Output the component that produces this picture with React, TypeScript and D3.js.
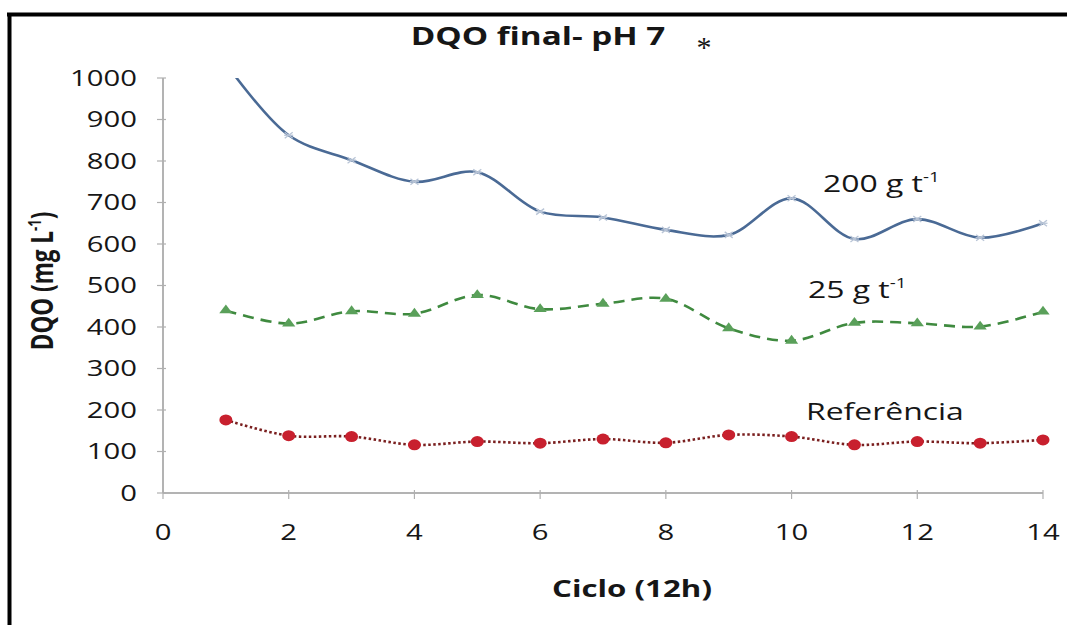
import React from "react";
import * as d3 from "d3";

const cycles = [1, 2, 3, 4, 5, 6, 7, 8, 9, 10, 11, 12, 13, 14];
const dqo200 = [1035, 862, 802, 750, 773, 678, 664, 634, 622, 710, 612, 660, 615, 650];
const dqo25 = [440, 408, 438, 432, 477, 443, 456, 468, 397, 367, 410, 409, 401, 437];
const referencia = [176, 138, 136, 116, 124, 120, 130, 121, 140, 136, 116, 124, 120, 128];
const xTicks = [0, 2, 4, 6, 8, 10, 12, 14];
const yTicks = [0, 100, 200, 300, 400, 500, 600, 700, 800, 900, 1000];

const W = 1067;
const H = 625;
const SX = 1.33;
const FONT = "'Open Sans', 'DejaVu Sans', sans-serif";
const INK = "#161616";

export default function App() {
  const x = d3.scaleLinear().domain([0, 14]).range([163, 1043]);
  const y = d3.scaleLinear().domain([0, 1000]).range([493, 78]);
  const line = d3
    .line<number>()
    .x((_, i) => x(cycles[i]))
    .y((d) => y(d))
    .curve(d3.curveCatmullRom.alpha(0.5));

  const T = (px: number, py: number) => `translate(${px},${py}) scale(${SX},1)`;
  const tri = d3.symbol(d3.symbolTriangle, 45)();

  return (
    <svg
      width={W}
      height={H}
      style={{ position: "absolute", left: 0, top: 0, background: "#fff" }}
      fontFamily={FONT}
    >
      <rect x={0} y={0} width={W} height={H} fill="#fff" />
      <defs>
        <clipPath id="plot">
          <rect x={150} y={y(1000)} width={920} height={y(0) - y(1000) + 20} />
        </clipPath>
      </defs>
      {/* frame */}
      <line x1={7} x2={W} y1={14.5} y2={14.5} stroke="#000" strokeWidth={4} />
      <line x1={9.5} x2={9.5} y1={13} y2={H} stroke="#000" strokeWidth={4} />

      {/* title */}
      <text transform={T(538, 45)} textAnchor="middle" fontWeight="bold" fontSize={25} fill={INK}>
        DQO final- pH 7
      </text>
      <text x={704} y={57} textAnchor="middle" fontSize={30} fill={INK} fontFamily="'Liberation Serif', serif">
        *
      </text>

      {/* axes */}
      <line x1={x(0)} x2={x(0)} y1={y(1000)} y2={y(0)} stroke="#9a9a9a" strokeWidth={1.5} />
      <line x1={x(0)} x2={x(14)} y1={y(0)} y2={y(0)} stroke="#9a9a9a" strokeWidth={1.5} />
      {yTicks.map((t) => (
        <g key={"y" + t}>
          <line x1={x(0) - 6} x2={x(0) + 3} y1={y(t)} y2={y(t)} stroke="#b0b0b0" strokeWidth={1.2} />
          <text transform={T(137, y(t) + 7.5)} textAnchor="end" fontSize={22} fill={INK}>
            {t}
          </text>
        </g>
      ))}
      {xTicks.map((t) => (
        <g key={"x" + t}>
          <line x1={x(t)} x2={x(t)} y1={y(0) - 3} y2={y(0) + 6} stroke="#b0b0b0" strokeWidth={1.2} />
          <text transform={T(x(t), 540)} textAnchor="middle" fontSize={22} fill={INK}>
            {t}
          </text>
        </g>
      ))}

      {/* axis titles */}
      <text transform={T(632, 597)} textAnchor="middle" fontWeight="bold" fontSize={23.5} fill={INK}>
        Ciclo (12h)
      </text>
      <g transform="translate(53,281) scale(1.33,1)">
        <text transform="rotate(-90)" textAnchor="middle" fontWeight="bold" fontSize={22.5} fill={INK}>
          DQO (mg L<tspan dy={-9} fontSize={13}>-1</tspan>
          <tspan dy={9}>)</tspan>
        </text>
      </g>

      {/* series */}
      <g clipPath="url(#plot)">
        <path d={line(dqo200) || ""} fill="none" stroke="#4a6a95" strokeWidth={2.6} />
        {dqo200.map((v, i) => {
          const cx = x(cycles[i]);
          const cy = y(v);
          return (
            <g key={"b" + i} stroke="#b8c4d6" strokeWidth={1.3}>
              <line x1={cx - 4} x2={cx + 4} y1={cy - 3} y2={cy + 3} />
              <line x1={cx - 4} x2={cx + 4} y1={cy + 3} y2={cy - 3} />
              <line x1={cx - 4.5} x2={cx + 4.5} y1={cy} y2={cy} />
            </g>
          );
        })}
      </g>
      <path d={line(dqo25) || ""} fill="none" stroke="#3f8a3f" strokeWidth={2.6} strokeDasharray="11,7" />
      {dqo25.map((v, i) => (
        <path key={"g" + i} d={tri || ""} transform={`translate(${x(cycles[i])},${y(v)}) scale(1.3,1)`} fill="#5aa05a" />
      ))}
      <path d={line(referencia) || ""} fill="none" stroke="#7a1f1f" strokeWidth={2.6} strokeDasharray="2.5,2.5" />
      {referencia.map((v, i) => (
        <ellipse key={"r" + i} cx={x(cycles[i])} cy={y(v)} rx={6.5} ry={5.5} fill="#c8202e" />
      ))}

      {/* series labels */}
      <text transform={T(823, 192)} fontSize={24} fill={INK}>
        200 g t<tspan dy={-10} fontSize={14}>-1</tspan>
      </text>
      <text transform={T(808, 298)} fontSize={24} fill={INK}>
        25 g t<tspan dy={-10} fontSize={14}>-1</tspan>
      </text>
      <text transform={T(806, 420)} fontSize={24} fill={INK}>
        Referência
      </text>
    </svg>
  );
}
